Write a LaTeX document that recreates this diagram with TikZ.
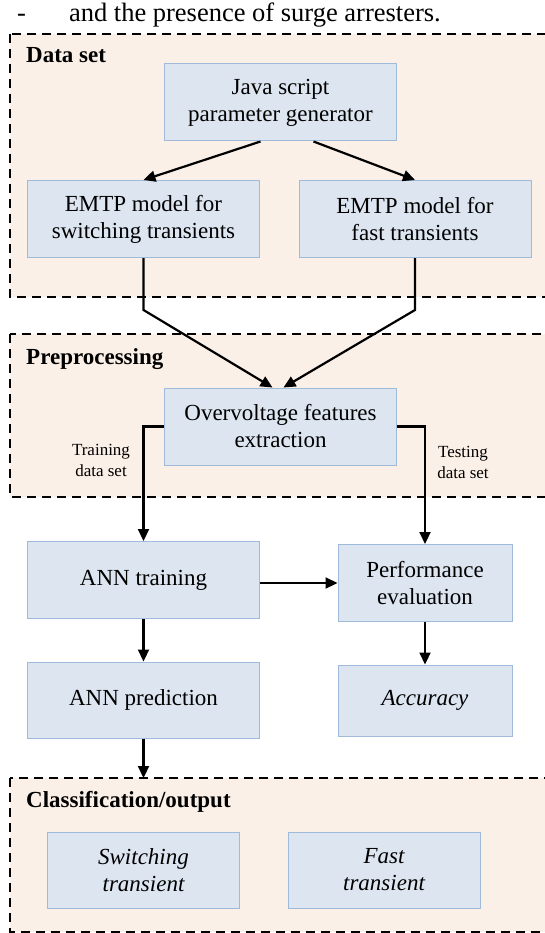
\documentclass[tikz,border=0pt]{standalone}
\usepackage{fontspec}
\setmainfont{Liberation Serif}
\usetikzlibrary{arrows.meta}
\definecolor{peach}{RGB}{251,240,231}
\definecolor{boxfill}{RGB}{220,229,240}
\definecolor{boxline}{RGB}{160,186,218}

\begin{document}
\begin{tikzpicture}[x=1pt,y=-1pt,
    main/.style={draw=boxline,line width=1pt,fill=boxfill,rectangle,inner sep=0pt,
      align=center,font=\fontsize{23}{27}\selectfont},
    wide/.style={minimum width=232pt,minimum height=77pt},
    narrow/.style={minimum width=174pt,minimum height=77pt},
    region/.style={draw,dash pattern=on 9pt off 6pt,line width=2.4pt,fill=peach},
    title/.style={anchor=west,inner sep=0pt,font=\fontsize{23}{27}\selectfont\bfseries},
    small/.style={align=center,inner sep=0pt,font=\fontsize{17}{21}\selectfont},
    link/.style={line width=2.2pt,-{Triangle[length=12pt,width=11pt]}}]
  \useasboundingbox (0,0) rectangle (544,933);

  \node[anchor=west,inner sep=0pt,font=\fontsize{26.5}{30}\selectfont] (hdr) at (17,15)
    {-\hspace{43pt}and the presence of surge arresters.};

  % dashed stages
  \draw[region] (10,34) rectangle (570,297);
  \draw[region] (10,334) rectangle (570,497);
  \draw[region] (10,778) rectangle (570,932);
  \node[title] (t1) at (26,55) {Data set};
  \node[title] (t2) at (26,359) {Preprocessing};
  \node[title] (t3) at (26,802) {Classification/output};

  \node[main,wide] (java) at (280.5,102.5) {Java script\\parameter generator};
  \node[main,wide] (sw) at (143.5,219) {EMTP model for\\switching transients};
  \node[main,wide] (fa) at (415,219) {EMTP model for\\fast transients};
  \node[main,wide] (ovf) at (280.5,426.5) {Overvoltage features\\extraction};
  \node[main,wide] (train) at (143.5,580) {ANN training};
  \node[main,narrow] (perf) at (425,583) {Performance\\evaluation};
  \node[main,wide,minimum height=76pt] (pred) at (143.5,700) {ANN prediction};
  \node[main,narrow,minimum height=71pt] (acc) at (425,700.5) {\itshape Accuracy};
  \node[main,minimum width=192pt,minimum height=76pt] (swt) at (143.5,870) {\itshape Switching\\\itshape transient};
  \node[main,minimum width=192pt,minimum height=76pt] (fst) at (384,870) {\itshape Fast\\\itshape transient};

  \node[small] (trn) at (101,460) {Training\\data set};
  \node[small] (tst) at (463,462) {Testing\\data set};
  \coordinate (cls) at (143.5,778);

  \draw[link] ([xshift=-20pt]java.south) -- (sw.north);
  \draw[link] ([xshift=33pt]java.south) -- (fa.north);
  \draw[link] (sw.south) -- ++(0,52) -- ([xshift=-8pt]ovf.north);
  \draw[link] (fa.south) -- ++(0,52) -- ([xshift=3pt]ovf.north);
  \draw[link] (ovf.west) -| (train.north);
  \draw[link] (ovf.east) -| (perf.north);
  \draw[link] (train.east |- perf.west) -- (perf.west);
  \draw[link] (train) -- (pred);
  \draw[link] (perf) -- (acc);
  \draw[link] (pred) -- (cls);
\end{tikzpicture}
\end{document}
